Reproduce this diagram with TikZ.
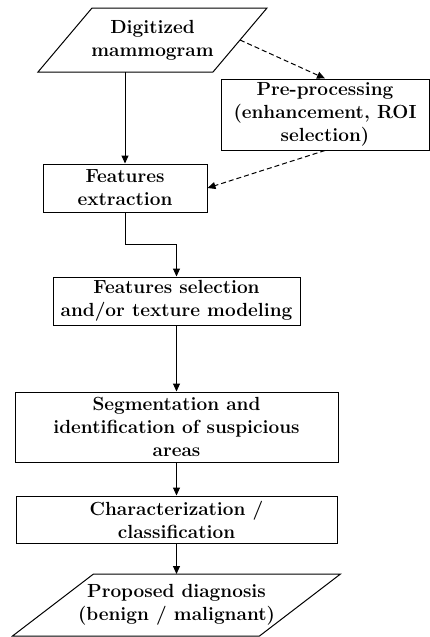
\documentclass[tikz,border=0pt]{standalone}
\usetikzlibrary{arrows.meta,calc}
\begin{document}
\begin{tikzpicture}[x=1pt,y=-1pt,
    stepbox/.style={draw,line width=1pt,align=center,inner sep=1pt,font=\fontsize{19}{23}\selectfont\bfseries},
    io/.style={align=center,inner sep=1pt,outer sep=0pt,font=\fontsize{19}{23}\selectfont\bfseries},
    flow/.style={line width=1pt,-{Triangle[length=8pt,width=7pt]}},
    aux/.style={flow,dash pattern=on 5pt off 3pt}]
    \useasboundingbox (0,0) rectangle (430,637);
    \node [io, minimum width=175, minimum height=64] (dig) at (152.5,40) {Digitized\\mammogram};
    \draw [line width=1pt] ($(dig.north west)+(27,0)$) -- ($(dig.north east)+(27,0)$) -- ($(dig.south east)+(-27,0)$) -- ($(dig.south west)+(-27,0)$) -- cycle;
    \node [stepbox, minimum width=208, minimum height=71] (pre) at (325,114.5) {Pre-processing\\(enhancement, ROI\\selection)};
    \node [stepbox, minimum width=164, minimum height=48] (feat) at (125,188) {Features\\extraction};
    \node [stepbox, minimum width=247, minimum height=48] (sel) at (176.5,301) {Features selection\\and/or texture modeling};
    \node [stepbox, minimum width=323, minimum height=70] (seg) at (176.5,427) {Segmentation and\\identification of suspicious\\areas};
    \node [stepbox, minimum width=321, minimum height=47] (cls) at (176.5,519.5) {Characterization /\\classification};
    \node [io, minimum width=247, minimum height=62] (diag) at (176.5,605) {Proposed diagnosis\\(benign / malignant)};
    \draw [line width=1pt] ($(diag.north west)+(40.5,0)$) -- ($(diag.north east)+(40.5,0)$) -- ($(diag.south east)+(-40.5,0)$) -- ($(diag.south west)+(-40.5,0)$) -- cycle;
    \draw [flow] (dig.south -| feat.north) -- (feat.north);
    \draw [aux] (dig.east) -- (pre.north);
    \draw [aux] (pre.south) -- (feat.east);
    \draw [flow] (feat.south) -- ++(0,32) -| (sel.north);
    \draw [flow] (sel.south) -- (seg.north);
    \draw [flow] (seg.south) -- (cls.north);
    \draw [flow] (cls.south) -- (diag.north);
\end{tikzpicture}
\end{document}
